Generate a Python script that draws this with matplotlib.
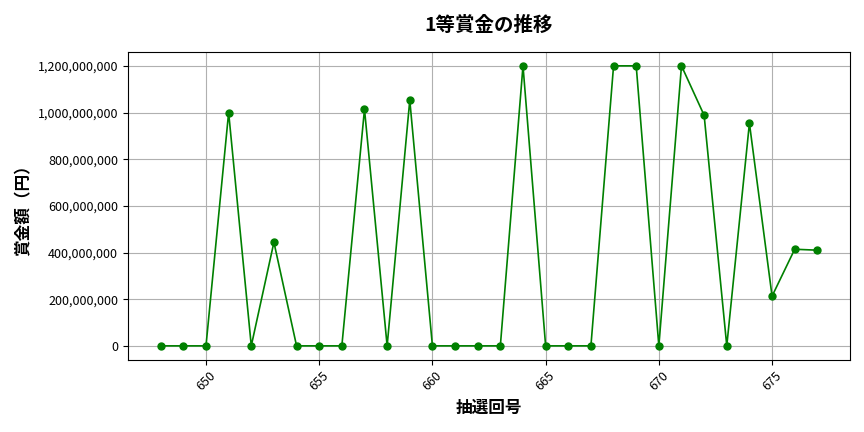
import matplotlib
matplotlib.use("Agg")
import matplotlib.pyplot as plt
from matplotlib.ticker import FuncFormatter

plt.rcParams['font.family'] = ['Noto Sans CJK JP', 'DejaVu Sans']

draws = list(range(648, 678))
prizes = [
    0, 0, 0, 1000000000, 0, 444000000, 0, 0, 0, 1014000000,
    0, 1053000000, 0, 0, 0, 0, 1200000000, 0, 0, 0,
    1200000000, 1200000000, 0, 1200000000, 988000000, 0, 954000000, 213000000, 414000000, 410000000,
]

fig, ax = plt.subplots(figsize=(8.64, 4.32), dpi=100)
ax.plot(draws, prizes, marker='o', color='green', markersize=5, linewidth=1.2)
ax.set_title('1等賞金の推移', fontsize=14, fontweight='bold', pad=15)
ax.set_xlabel('抽選回号', fontsize=12, fontweight='bold')
ax.set_ylabel('賞金額（円）', fontsize=12, fontweight='bold')
ax.yaxis.set_major_formatter(FuncFormatter(lambda v, p: f'{int(v):,}'))
ax.tick_params(axis='x', labelrotation=45, labelsize=9)
ax.tick_params(axis='y', labelsize=9)
ax.grid(True)
fig.subplots_adjust(left=0.148, right=0.984, top=0.88, bottom=0.167)
fig.savefig('out.png', dpi=100)
